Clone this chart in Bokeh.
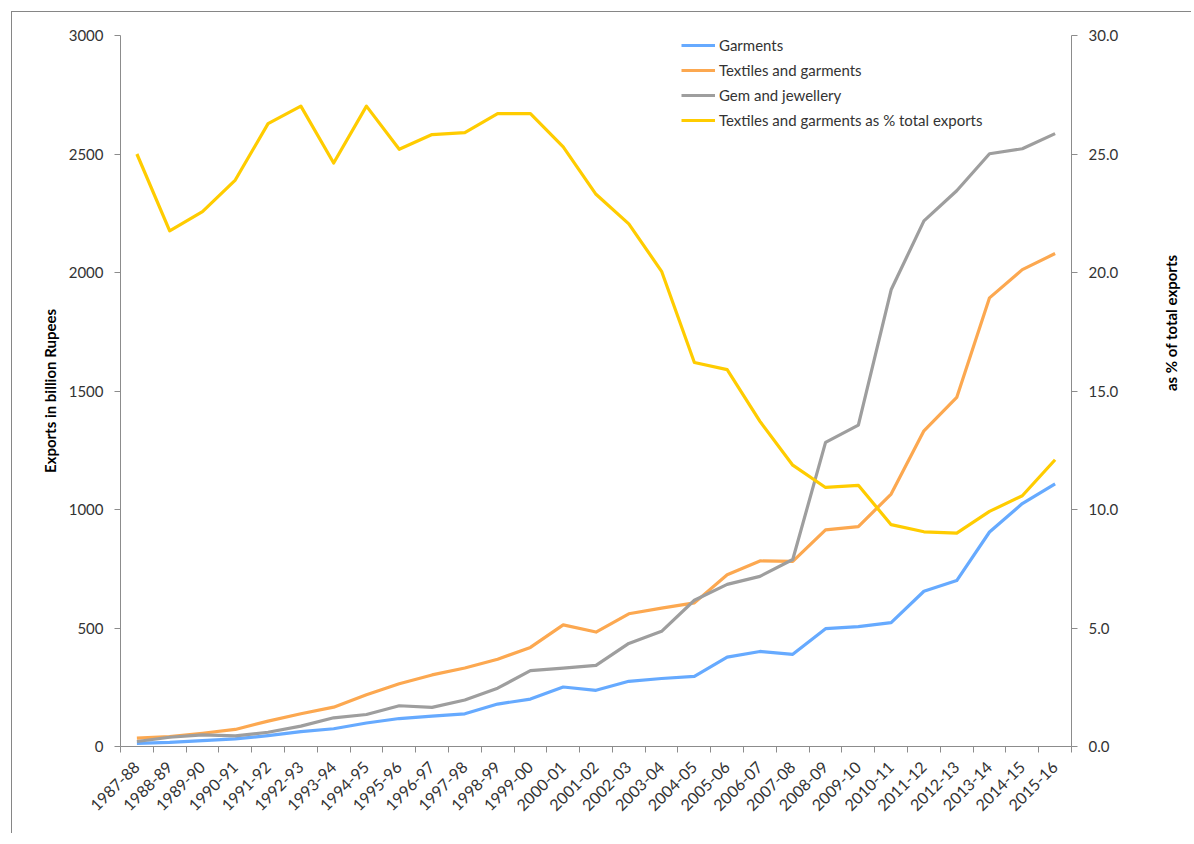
import math
from bokeh.plotting import figure
from bokeh.models import (Range1d, LinearAxis, FixedTicker, PrintfTickFormatter,
                          Legend, LegendItem, CustomJSTickFormatter)
from bokeh.embed import file_html
from bokeh.resources import INLINE

years = ["1987-88", "1988-89", "1989-90", "1990-91", "1991-92", "1992-93", "1993-94",
         "1994-95", "1995-96", "1996-97", "1997-98", "1998-99", "1999-00", "2000-01",
         "2001-02", "2002-03", "2003-04", "2004-05", "2005-06", "2006-07", "2007-08",
         "2008-09", "2009-10", "2010-11", "2011-12", "2012-13", "2013-14", "2014-15",
         "2015-16"]

garments = [13, 17, 25, 32, 46, 63, 75, 99, 118, 128, 138, 179, 200, 251, 237,
            275, 287, 296, 377, 401, 389, 497, 506, 523, 655, 700, 905, 1025, 1108]

textiles = [35, 42, 56, 72, 107, 138, 166, 218, 265, 302, 331, 368, 418, 513, 483,
            560, 584, 606, 725, 783, 781, 914, 928, 1065, 1332, 1473, 1893, 2012, 2080]

gems = [21, 39, 49, 45, 60, 86, 121, 135, 172, 165, 196, 246, 320, 331, 342,
        435, 486, 617, 684, 718, 789, 1283, 1356, 1927, 2218, 2345, 2501, 2522, 2586]

share = [25.0, 21.76, 22.57, 23.9, 26.28, 27.02, 24.62, 27.02, 25.2, 25.82, 25.9,
         26.7, 26.7, 25.3, 23.3, 22.05, 20.05, 16.2, 15.9, 13.72, 11.87, 10.93,
         11.02, 9.36, 9.06, 9.0, 9.92, 10.58, 12.1]

left_ticks = [0, 500, 1000, 1500, 2000, 2500, 3000]
right_ticks = [0, 5, 10, 15, 20, 25, 30]

FONT = "Lato"
AXIS_COL = "#8c8c8c"
TEXT_COL = "#333333"

n = len(years)
xs = [i + 0.5 for i in range(n)]

p = figure(width=1180, height=822, output_backend="svg", toolbar_location=None,
           x_range=Range1d(0, n), y_range=Range1d(0, 3000),
           min_border_left=108, min_border_right=120, min_border_top=23,
           min_border_bottom=88, x_axis_type=None, y_axis_type=None)
p.extra_y_ranges = {"pct": Range1d(0, 30)}
p.outline_line_color = None
p.background_fill_color = "white"
p.border_fill_color = "white"
p.styles = {"margin-left": "11px", "margin-top": "11px",
            "border-left": "1px solid #868686", "border-top": "1px solid #868686"}

# bottom axis
xax = LinearAxis(ticker=FixedTicker(ticks=xs, minor_ticks=list(range(n + 1))),
                 formatter=CustomJSTickFormatter(args=dict(labels=years),
                                                 code="return labels[Math.floor(tick)] || '';"))
xax.major_tick_out = 0
xax.major_tick_in = 0
xax.minor_tick_out = 6
xax.minor_tick_in = 0
xax.minor_tick_line_color = AXIS_COL
xax.axis_line_color = AXIS_COL
xax.major_label_orientation = math.pi / 4
xax.major_label_standoff = 12
xax.major_label_text_font = FONT
xax.major_label_text_font_size = "16px"
xax.major_label_text_color = TEXT_COL
p.add_layout(xax, "below")

# left axis
yax = LinearAxis(ticker=FixedTicker(ticks=left_ticks, minor_ticks=[]),
                 axis_label="Exports in billion Rupees")
yax.major_tick_out = 6
yax.major_tick_in = 0
yax.minor_tick_line_color = None
yax.major_tick_line_color = AXIS_COL
yax.axis_line_color = AXIS_COL
yax.major_label_standoff = 11
yax.major_label_text_font = FONT
yax.major_label_text_font_size = "15px"
yax.major_label_text_color = TEXT_COL
yax.axis_label_text_font = FONT
yax.axis_label_text_font_size = "15px"
yax.axis_label_text_font_style = "bold"
yax.axis_label_text_color = "black"
yax.axis_label_standoff = 7
p.add_layout(yax, "left")

# right axis
rax = LinearAxis(y_range_name="pct", ticker=FixedTicker(ticks=right_ticks, minor_ticks=[]),
                 formatter=PrintfTickFormatter(format="%.1f"),
                 axis_label="as % of total exports")
rax.major_tick_out = 6
rax.major_tick_in = 0
rax.minor_tick_line_color = None
rax.major_tick_line_color = AXIS_COL
rax.axis_line_color = AXIS_COL
rax.major_label_standoff = 11
rax.major_label_text_font = FONT
rax.major_label_text_font_size = "15px"
rax.major_label_text_color = TEXT_COL
rax.axis_label_text_font = FONT
rax.axis_label_text_font_size = "15px"
rax.axis_label_text_font_style = "bold"
rax.axis_label_text_color = "black"
rax.axis_label_standoff = 50
rax.axis_label_text_align = "center"
rax.axis_label_text_baseline = "middle"
try:
    rax.axis_label_orientation = math.pi / 2
except Exception:
    pass
p.add_layout(rax, "right")

p.xgrid.visible = False
p.ygrid.visible = False

r1 = p.line(xs, garments, line_color="#66aaff", line_width=3.2, line_join="round")
r2 = p.line(xs, textiles, line_color="#fca850", line_width=3.2, line_join="round")
r3 = p.line(xs, gems, line_color="#9e9e9e", line_width=3.2, line_join="round")
r4 = p.line(xs, share, line_color="#ffcc00", line_width=3.2, line_join="round",
            y_range_name="pct")

legend = Legend(items=[LegendItem(label="Garments", renderers=[r1]),
                       LegendItem(label="Textiles and garments", renderers=[r2]),
                       LegendItem(label="Gem and jewellery", renderers=[r3]),
                       LegendItem(label="Textiles and garments as % total exports", renderers=[r4])],
                location=(561, 616))
legend.padding = 0
legend.margin = 0
legend.spacing = 5
legend.glyph_height = 20
legend.glyph_width = 34
legend.label_height = 20
legend.label_standoff = 4
legend.border_line_color = None
legend.background_fill_alpha = 0
legend.label_text_font = FONT
legend.label_text_font_size = "15px"
legend.label_text_color = TEXT_COL
p.add_layout(legend)

open("out.html", "w").write(file_html(p, INLINE))
